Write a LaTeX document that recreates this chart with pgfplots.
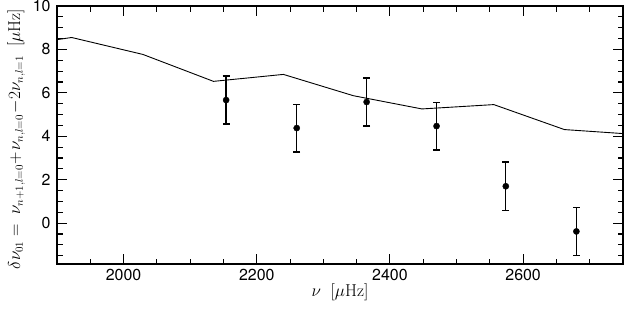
\documentclass[border=0pt]{standalone}
\usepackage[no-math]{fontspec}
\setmainfont{TeX Gyre Heros}
\usepackage{pgfplots}
\pgfplotsset{compat=1.18}
\begin{document}
\begin{tikzpicture}
\begin{axis}[
  name=ax,
  scale only axis,
  width=566bp, height=258bp,
  xmin=1900, xmax=2750, ymin=-1.88, ymax=10,
  xtick={2000,2200,2400,2600},
  minor xtick={1950,2050,2100,2150,2250,2300,2350,2450,2500,2550,2650,2700},
  ytick={0,2,4,6,8,10},
  minor ytick={-1.5,-1,-0.5,0.5,1,1.5,2.5,3,3.5,4.5,5,5.5,6.5,7,7.5,8.5,9,9.5},
  tick align=inside,
  major tick length=10bp,
  minor tick length=5.5bp,
  tick style={line width=1.1pt, black},
  axis line style={line width=1.3pt},
  xticklabel style={font=\fontsize{16}{18}\selectfont, yshift=-2bp},
  yticklabel style={font=\fontsize{16}{18}\selectfont, xshift=-3bp},
  /pgf/number format/assume math mode=true,
  /pgf/number format/1000 sep={},
  xlabel={\fontsize{17.5}{20}\selectfont$\nu\ \;[\mu\mathrm{Hz}]$},
  ylabel={\fontsize{16.3}{19}\selectfont$\delta\nu_{01}=\ \nu_{n+1,l=0}\!+\!\nu_{n,l=0}\!-\!2\nu_{n,l=1}\ \;[\mu\mathrm{Hz}]$},
  xlabel style={yshift=4bp},
  ylabel style={xshift=-4bp, yshift=1bp},
  clip=true,
]
\addplot[black, line width=0.9pt] coordinates {
 (1900,8.45) (1922,8.55) (2029,7.77) (2135,6.53) (2240,6.85) (2345,5.87)
 (2448,5.26) (2556,5.46) (2662,4.31) (2767,4.09)
};
\addplot[black, only marks, mark=*, mark size=3.1pt,
  error bars/.cd, y dir=both, y explicit,
  error bar style={line width=1.3pt},
  error mark options={rotate=90, mark size=3.4pt, line width=1.3pt}]
 coordinates {
 (2154,5.67) +- (0,1.1)
 (2260,4.38) +- (0,1.1)
 (2365,5.58) +- (0,1.1)
 (2470,4.47) +- (0,1.1)
 (2574,1.70) +- (0,1.12)
 (2680,-0.38) +- (0,1.1)
};
\end{axis}
\pgfresetboundingbox
\path[use as bounding box] ([xshift=-57bp,yshift=-45bp]ax.south west) rectangle ([xshift=1bp,yshift=6bp]ax.north east);
\end{tikzpicture}
\end{document}
